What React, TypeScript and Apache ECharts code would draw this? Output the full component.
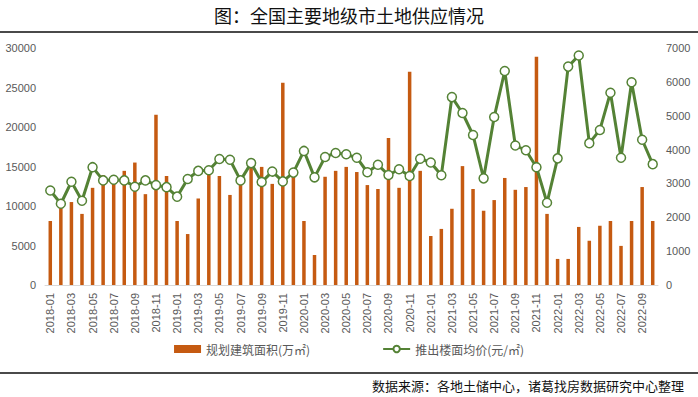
import React, { useEffect, useRef } from "react";
import * as echarts from "echarts";

const months: string[] = [
  "2018-01", "2018-02", "2018-03", "2018-04", "2018-05", "2018-06", "2018-07", "2018-08", "2018-09", "2018-10", "2018-11", "2018-12",
  "2019-01", "2019-02", "2019-03", "2019-04", "2019-05", "2019-06", "2019-07", "2019-08", "2019-09", "2019-10", "2019-11", "2019-12",
  "2020-01", "2020-02", "2020-03", "2020-04", "2020-05", "2020-06", "2020-07", "2020-08", "2020-09", "2020-10", "2020-11", "2020-12",
  "2021-01", "2021-02", "2021-03", "2021-04", "2021-05", "2021-06", "2021-07", "2021-08", "2021-09", "2021-10", "2021-11", "2021-12",
  "2022-01", "2022-02", "2022-03", "2022-04", "2022-05", "2022-06", "2022-07", "2022-08", "2022-09", "2022-10",
];

// 规划建筑面积(万㎡)
const areaValues: number[] = [
  8100, 10100, 10500, 9000, 12300, 13900, 13200, 14450, 15500, 11500, 21550, 13800,
  8100, 6450, 10950, 14150, 13800, 11400, 12900, 15000, 14950, 12800, 25600, 14650,
  8100, 3800, 13700, 14450, 14950, 14300, 12650, 12150, 18600, 12300, 27000, 14450,
  6200, 7100, 9650, 15050, 12150, 9400, 10750, 13550, 12050, 12400, 28900, 9000,
  3300, 3300, 7350, 5600, 7500, 8100, 4950, 8100, 12400, 8100,
];

// 推出楼面均价(元/㎡)
const priceValues: number[] = [
  2790, 2400, 3050, 2490, 3480, 3090, 3110, 3090, 2900, 3090, 2950, 2890,
  2610, 3130, 3370, 3390, 3720, 3700, 3090, 3600, 3040, 3350, 3060, 3320,
  3960, 3180, 3780, 3900, 3860, 3760, 3330, 3550, 3250, 3420, 3220, 3730,
  3620, 3240, 5550, 5080, 4430, 3150, 4960, 6320, 4120, 3980, 3480, 2430,
  3740, 6450, 6780, 4190, 4580, 5680, 3760, 5990, 4290, 3570,
];

const leftTicks = { min: 0, max: 30000, interval: 5000 };
const rightTicks = { min: 0, max: 7000, interval: 1000 };

const titleText = "图：全国主要地级市土地供应情况";
const sourceText = "数据来源：各地土储中心，诸葛找房数据研究中心整理";
const barName = "规划建筑面积(万㎡)";
const lineName = "推出楼面均价(元/㎡)";

const BAR_COLOR = "#C55A11";
const LINE_COLOR = "#548235";
const LABEL_COLOR = "#595959";
const FONT = "'Liberation Sans', 'Noto Sans CJK SC', sans-serif";
const CJK = "'Noto Sans CJK SC', sans-serif";

const plain = (v: number) => String(v);

export default function App() {
  const ref = useRef<HTMLDivElement>(null);

  useEffect(() => {
    if (!ref.current) return;
    const chart = echarts.init(ref.current, undefined, { renderer: "svg" });
    chart.setOption({
      animation: false,
      backgroundColor: "#ffffff",
      textStyle: { fontFamily: FONT },
      grid: { left: 45, right: 40, top: 48, bottom: 112, containLabel: false },
      legend: {
        bottom: 37,
        left: "center",
        itemGap: 72,
        itemWidth: 27,
        itemHeight: 8,
        textStyle: { color: LABEL_COLOR, fontSize: 12, fontFamily: CJK },
        data: [
          { name: barName, icon: "rect" },
          { name: lineName },
        ],
      },
      xAxis: {
        type: "category",
        data: months,
        boundaryGap: true,
        axisLine: { show: true, lineStyle: { color: "#D9D9D9", width: 1 } },
        axisTick: { show: false },
        axisLabel: {
          interval: 1,
          rotate: 90,
          color: LABEL_COLOR,
          fontSize: 11,
          margin: 8,
          fontFamily: FONT,
        },
      },
      yAxis: [
        {
          type: "value",
          min: leftTicks.min,
          max: leftTicks.max,
          interval: leftTicks.interval,
          splitLine: { show: false },
          axisLine: { show: false },
          axisTick: { show: false },
          axisLabel: { color: LABEL_COLOR, fontSize: 11, margin: 9, fontFamily: FONT, formatter: plain },
        },
        {
          type: "value",
          min: rightTicks.min,
          max: rightTicks.max,
          interval: rightTicks.interval,
          splitLine: { show: false },
          axisLine: { show: false },
          axisTick: { show: false },
          axisLabel: { color: LABEL_COLOR, fontSize: 11, margin: 8, fontFamily: FONT, formatter: plain },
        },
      ],
      series: [
        {
          name: barName,
          type: "bar",
          yAxisIndex: 0,
          data: areaValues,
          barWidth: 3.5,
          itemStyle: { color: BAR_COLOR },
          z: 2,
        },
        {
          name: lineName,
          type: "line",
          yAxisIndex: 1,
          data: priceValues,
          symbol: "circle",
          symbolSize: 9,
          showAllSymbol: true,
          lineStyle: { color: LINE_COLOR, width: 3 },
          itemStyle: { color: "#ffffff", borderColor: LINE_COLOR, borderWidth: 1.5 },
          z: 3,
        },
      ],
      graphic: [
        {
          type: "text",
          left: "center",
          top: 6,
          style: { text: titleText, fontSize: 18, fill: "#111", fontFamily: CJK },
        },
        {
          type: "line",
          shape: { x1: 0, y1: 32, x2: 698, y2: 32 },
          style: { stroke: "#4a4a4a", lineWidth: 2 },
        },
        {
          type: "line",
          shape: { x1: 0, y1: 373, x2: 698, y2: 373 },
          style: { stroke: "#4a4a4a", lineWidth: 2 },
        },
        {
          type: "text",
          right: 14,
          top: 379,
          style: { text: sourceText, fontSize: 13, fill: "#111", fontFamily: CJK },
        },
      ],
    });
    return () => chart.dispose();
  }, []);

  return (
    <div
      ref={ref}
      style={{ position: "fixed", left: 0, top: 0, width: 698, height: 397 }}
    />
  );
}
